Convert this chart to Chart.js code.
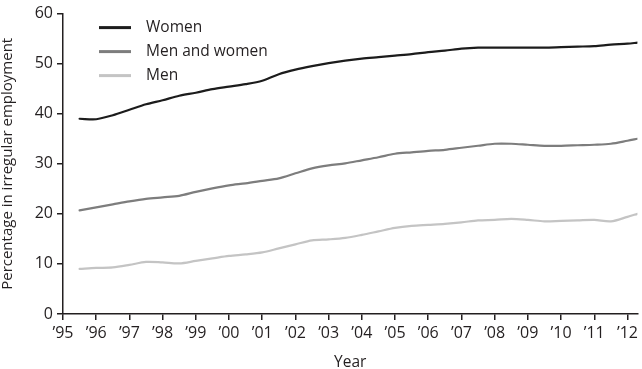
<!DOCTYPE html>
<html>
<head>
<meta charset="utf-8">
<script src="https://cdn.jsdelivr.net/npm/chart.js@4.4.1/dist/chart.umd.min.js"></script>
<style>
  html, body { margin: 0; padding: 0; background: #fff; }
  #wrap { width: 642px; height: 369px; position: relative; }
</style>
</head>
<body>
<div id="wrap"><canvas id="irregChart"></canvas></div>
<script>
// survey points (decimal years)
const years = [1995.5, 1996, 1996.5, 1997, 1997.5, 1998, 1998.5, 1999, 1999.5, 2000,
  2000.5, 2001, 2001.5, 2002, 2002.5, 2003, 2003.5, 2004, 2004.5, 2005,
  2005.5, 2006, 2006.5, 2007, 2007.5, 2008, 2008.5, 2009, 2009.5, 2010,
  2010.5, 2011, 2011.5, 2012, 2012.3];

const women = [39.0, 38.9, 39.7, 40.8, 41.9, 42.7, 43.6, 44.2, 44.9, 45.4,
  45.9, 46.6, 47.9, 48.8, 49.5, 50.1, 50.6, 51.0, 51.3, 51.6,
  51.9, 52.3, 52.6, 53.0, 53.2, 53.2, 53.2, 53.2, 53.2, 53.3,
  53.4, 53.5, 53.8, 54.0, 54.2];

const menAndWomen = [20.7, 21.3, 21.9, 22.5, 23.0, 23.3, 23.6, 24.4, 25.1, 25.7,
  26.1, 26.6, 27.1, 28.1, 29.1, 29.7, 30.1, 30.7, 31.3, 32.0,
  32.3, 32.6, 32.8, 33.2, 33.6, 34.0, 34.0, 33.8, 33.6, 33.6,
  33.7, 33.8, 34.0, 34.6, 35.0];

const men = [9.0, 9.2, 9.3, 9.8, 10.4, 10.3, 10.1, 10.6, 11.1, 11.6,
  11.9, 12.3, 13.1, 13.9, 14.7, 14.9, 15.2, 15.8, 16.5, 17.2,
  17.6, 17.8, 18.0, 18.3, 18.7, 18.8, 19.0, 18.8, 18.5, 18.6,
  18.7, 18.8, 18.5, 19.4, 20.0];

const tickYears = [1995, 1996, 1997, 1998, 1999, 2000, 2001, 2002, 2003,
  2004, 2005, 2006, 2007, 2008, 2009, 2010, 2011, 2012];
const yTicks = [0, 10, 20, 30, 40, 50, 60];

const FONT = 'Open Sans';
const INK = '#231f20';

function toPoints(vals) {
  return vals.map((v, i) => ({ x: years[i], y: v }));
}

// legend drawn inside the plot, top-left
const insideLegend = {
  id: 'insideLegend',
  afterDraw(chart) {
    const { ctx, chartArea } = chart;
    ctx.save();
    ctx.font = '15.5px "' + FONT + '"';
    ctx.textBaseline = 'middle';
    chart.data.datasets.forEach((ds, i) => {
      const y = chartArea.top + 14 + i * 24;
      const x0 = chartArea.left + 36;
      ctx.strokeStyle = ds.borderColor;
      ctx.lineWidth = 3;
      ctx.beginPath();
      ctx.moveTo(x0, y);
      ctx.lineTo(x0 + 32, y);
      ctx.stroke();
      ctx.fillStyle = INK;
      ctx.fillText(ds.label, x0 + 47, y);
    });
    ctx.restore();
  }
};

const ctx = document.getElementById('irregChart').getContext('2d');

new Chart(ctx, {
  type: 'line',
  data: {
    datasets: [
      { label: 'Women', data: toPoints(women), borderColor: '#1c1c1c', borderWidth: 2.2 },
      { label: 'Men and women', data: toPoints(menAndWomen), borderColor: '#7d7d7d', borderWidth: 2.2 },
      { label: 'Men', data: toPoints(men), borderColor: '#c4c4c4', borderWidth: 2.2 }
    ]
  },
  options: {
    responsive: true,
    maintainAspectRatio: false,
    animation: false,
    layout: { padding: { top: 10, right: 2, left: 0, bottom: 0 } },
    elements: {
      point: { radius: 0 },
      line: { tension: 0.3, fill: false, borderCapStyle: 'round' }
    },
    plugins: {
      legend: { display: false },
      tooltip: { enabled: false }
    },
    scales: {
      x: {
        type: 'linear',
        min: 1995,
        max: 2012.3,
        afterBuildTicks: (scale) => { scale.ticks = tickYears.map(v => ({ value: v })); },
        afterFit: (scale) => { scale.height = 55; },
        ticks: {
          color: INK,
          padding: 4,
          maxRotation: 0,
          autoSkip: false,
          font: { family: FONT, size: 16 },
          callback: (v) => '\u2019' + String(v).slice(2)
        },
        grid: { drawOnChartArea: false, drawTicks: true, tickLength: 6, color: INK, lineWidth: 1.5 },
        border: { display: true, color: INK, width: 1.5 },
        title: {
          display: true,
          text: 'Year',
          color: INK,
          font: { family: FONT, size: 15.5 },
          padding: { top: 0, bottom: -3 }
        }
      },
      y: {
        min: 0,
        max: 60,
        afterBuildTicks: (scale) => { scale.ticks = yTicks.map(v => ({ value: v })); },
        afterFit: (scale) => { scale.width = 63; },
        ticks: {
          color: INK,
          padding: 4,
          font: { family: FONT, size: 16 }
        },
        grid: { drawOnChartArea: false, drawTicks: true, tickLength: 6, color: INK, lineWidth: 1.5 },
        border: { display: true, color: INK, width: 1.5 },
        title: {
          display: true,
          text: 'Percentage in irregular employment',
          color: INK,
          font: { family: FONT, size: 15 },
          padding: { top: -1, bottom: 0 }
        }
      }
    }
  },
  plugins: [insideLegend]
});
</script>
</body>
</html>
